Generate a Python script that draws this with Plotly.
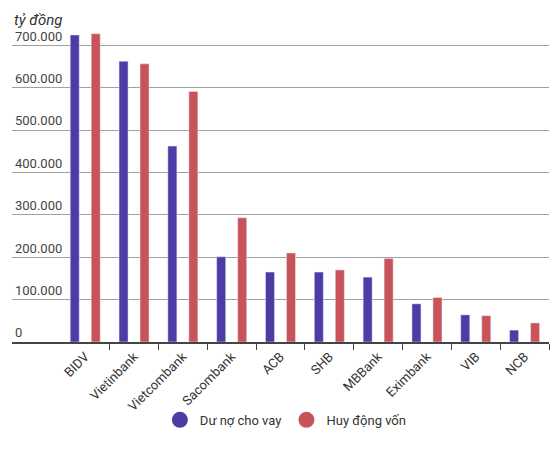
import plotly.graph_objects as go

banks = ["BIDV", "Vietinbank", "Vietcombank", "Sacombank", "ACB",
         "SHB", "MBBank", "Eximbank", "VIB", "NCB"]
du_no = [724000, 662000, 462000, 201000, 165000, 165000, 153000, 90000, 64000, 28000]
huy_dong = [727000, 656000, 591000, 293000, 210000, 170000, 197000, 105000, 62000, 45000]
y_ticks = [0, 100000, 200000, 300000, 400000, 500000, 600000, 700000]
y_labels = ["0", "100.000", "200.000", "300.000", "400.000", "500.000", "600.000", "700.000"]

BLUE = "#4b3ca6"
RED = "#c8545a"

fig = go.Figure()
fig.add_trace(go.Bar(x=banks, y=du_no, name="Dư nợ cho vay",
                     marker_color=BLUE, showlegend=False))
fig.add_trace(go.Bar(x=banks, y=huy_dong, name="Huy động vốn",
                     marker_color=RED, showlegend=False))

# legend entries with round markers
for name, col in [("Dư nợ cho vay", BLUE), ("Huy động vốn", RED)]:
    fig.add_trace(go.Scatter(x=[None], y=[None], mode="markers", name=name,
                             marker=dict(color=col, size=17, symbol="circle")))

# page body has an 8px margin, so the figure is a bit smaller and shifted
fig.update_layout(
    width=551, height=449,
    margin=dict(l=4, r=10, t=16, b=115, autoexpand=False),
    paper_bgcolor="white", plot_bgcolor="white",
    font=dict(family="Roboto", size=13, color="#444"),
    barmode="group", bargap=0.14, bargroupgap=0.57,
    legend=dict(orientation="h", x=0.51, xanchor="center", y=-0.245, yanchor="middle",
                font=dict(size=13, color="#333"), itemwidth=30),
    annotations=[dict(text="<i>tỷ đồng</i>", x=0, xref="paper", xanchor="left",
                      y=1.048, yref="paper", yanchor="top", showarrow=False,
                      font=dict(size=15, color="#333"))],
)

fig.update_xaxes(
    type="category", categoryorder="array", categoryarray=banks,
    range=[-1.5, 9.5], tickson="boundaries", ticks="outside", ticklen=6,
    tickcolor="#444", tickwidth=1, tickangle=-45, automargin=False,
    showline=True, linecolor="#444", linewidth=2, showgrid=False,
    tickfont=dict(size=13, color="#333"),
)
fig.update_yaxes(
    range=[0, 750000], tickvals=y_ticks, ticktext=y_labels, automargin=False,
    ticklabelposition="inside top", showgrid=True, gridcolor="#a0a0a0", gridwidth=1,
    zeroline=False, tickfont=dict(size=13, color="#444"),
)

fig.write_html("out.html")
